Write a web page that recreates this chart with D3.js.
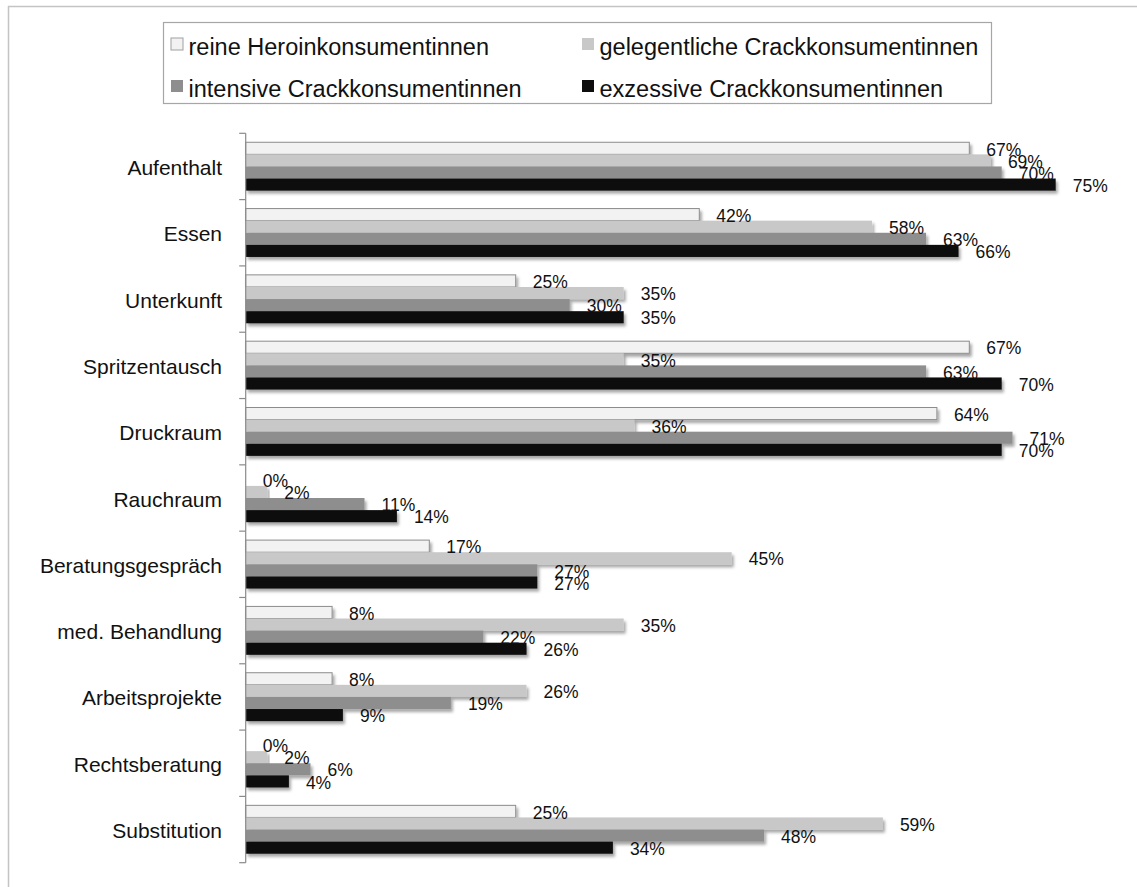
<!DOCTYPE html>
<html>
<head>
<meta charset="utf-8">
<script src="https://cdn.jsdelivr.net/npm/d3@7"></script>
<style>
  html, body { margin: 0; padding: 0; background: #fff; }
  svg { display: block; font-family: "Liberation Sans", Arial, sans-serif; }
</style>
</head>
<body>
<svg id="chart" width="1137" height="887"></svg>
<script>
// ---- data ----
const categories = ["Aufenthalt", "Essen", "Unterkunft", "Spritzentausch", "Druckraum", "Rauchraum",
  "Beratungsgespräch", "med. Behandlung", "Arbeitsprojekte", "Rechtsberatung", "Substitution"];
const seriesNames = ["reine Heroinkonsumentinnen", "gelegentliche Crackkonsumentinnen",
  "intensive Crackkonsumentinnen", "exzessive Crackkonsumentinnen"];
const reine        = [67, 42, 25, 67, 64, 0, 17, 8, 8, 0, 25];
const gelegentlich = [69, 58, 35, 35, 36, 2, 45, 35, 26, 2, 59];
const intensiv     = [70, 63, 30, 63, 71, 11, 27, 22, 19, 6, 48];
const exzessiv     = [75, 66, 35, 70, 70, 14, 27, 26, 9, 4, 34];
const seriesValues = [reine, gelegentlich, intensiv, exzessiv];
const xDomain = [0, 80];

// ---- styles ----
const fills = ["#f2f2f2", "#c8c8c8", "#8e8e8e", "#0d0d0d"];
const strokes = ["#8c8c8c", "none", "none", "none"];

const svg = d3.select("#chart");

const defs = svg.append("defs");
const f = defs.append("filter").attr("id", "shadow")
  .attr("x", "-5%").attr("y", "-40%").attr("width", "115%").attr("height", "200%");
f.append("feDropShadow").attr("dx", 2).attr("dy", 3).attr("stdDeviation", 1.6)
  .attr("flood-color", "#000").attr("flood-opacity", 0.35);

// outer frame (left + top only visible)
svg.append("line").attr("x1", 8).attr("y1", 6.5).attr("x2", 1137).attr("y2", 6.5)
  .attr("stroke", "#c4c4c4").attr("stroke-width", 1.5);
svg.append("line").attr("x1", 8.5).attr("y1", 6).attr("x2", 8.5).attr("y2", 887)
  .attr("stroke", "#c4c4c4").attr("stroke-width", 1.5);

// scales
const x = d3.scaleLinear().domain(xDomain).range([245.7, 245.7 + 864]);
const y = d3.scaleBand().domain(categories).range([133.3, 862.7]).padding(0);
const ySub = d3.scaleBand().domain(d3.range(seriesNames.length))
  .range([0, y.bandwidth()]).paddingInner(0).paddingOuter(0.74);

// category labels
svg.append("g").selectAll("text").data(categories).join("text")
  .attr("x", 222)
  .attr("y", d => y(d) + y.bandwidth() / 2 + 8.5)
  .attr("text-anchor", "end")
  .attr("font-size", 21)
  .attr("fill", "#111")
  .text(d => d);

// bars
const barG = svg.append("g");
seriesValues.forEach((vals, si) => {
  barG.selectAll(null).data(vals.map((v, i) => ({ v, i }))).join("rect")
    .filter(d => d.v > 0)
    .attr("x", x(0))
    .attr("y", d => y(categories[d.i]) + ySub(si))
    .attr("width", d => x(d.v) - x(0))
    .attr("height", ySub.bandwidth())
    .attr("fill", fills[si])
    .attr("stroke", strokes[si])
    .attr("stroke-width", 1)
    .attr("filter", "url(#shadow)");
});

// data labels
const labelG = svg.append("g");
seriesValues.forEach((vals, si) => {
  labelG.selectAll(null).data(vals).join("text")
    .attr("x", d => x(d) + 17)
    .attr("y", (d, i) => y(categories[i]) + ySub(si) + ySub.bandwidth() / 2 + 7.2)
    .attr("font-size", 17.5)
    .attr("fill", "#111")
    .text(d => d + "%");
});

// axis
const axis = d3.axisLeft(y).tickSize(0).tickFormat("");
const axG = svg.append("g").attr("transform", `translate(${x(0)},0)`).call(axis);
axG.select(".domain").attr("stroke", "#8a8a8a").attr("stroke-width", 1.2)
  .attr("d", `M0,${y.range()[0]}V${y.range()[1]}`);
axG.selectAll(".tick").remove();
const boundaries = categories.map(c => y(c)).concat([y.range()[1]]);
axG.selectAll("line.bt").data(boundaries).join("line").attr("class", "bt")
  .attr("x1", -6.5).attr("x2", 0)
  .attr("y1", d => d).attr("y2", d => d)
  .attr("stroke", "#8a8a8a").attr("stroke-width", 1.2);

// legend
const lg = svg.append("g");
lg.append("rect").attr("x", 163.5).attr("y", 22.5).attr("width", 828).attr("height", 81)
  .attr("fill", "#fff").attr("stroke", "#a6a6a6").attr("stroke-width", 1.2);
const legX = [171, 582];
const legY = [54.5, 96.5];
seriesNames.forEach((name, si) => {
  const col = si % 2, row = Math.floor(si / 2);
  lg.append("rect").attr("x", legX[col]).attr("y", legY[row] - 16.5)
    .attr("width", 12).attr("height", 12)
    .attr("fill", fills[si])
    .attr("stroke", si === 0 ? "#a0a0a0" : "none").attr("stroke-width", 1);
  lg.append("text").attr("x", legX[col] + 17.5).attr("y", legY[row])
    .attr("font-size", 23.5).attr("fill", "#111").text(name);
});
</script>
</body>
</html>
